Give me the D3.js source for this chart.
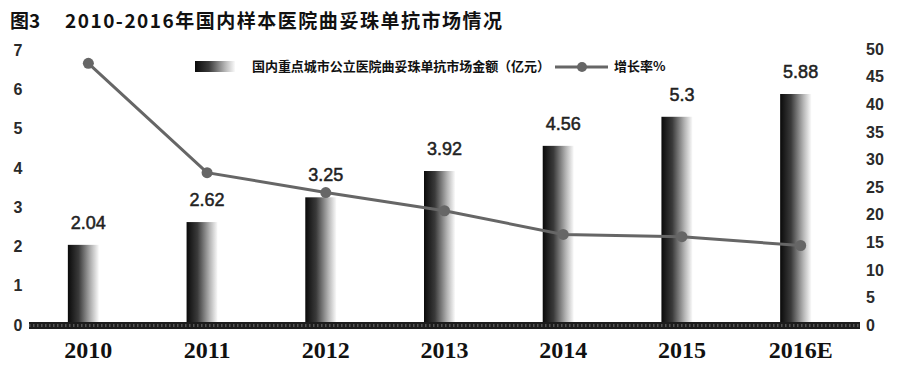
<!DOCTYPE html>
<html><head><meta charset="utf-8">
<script src="https://cdn.jsdelivr.net/npm/d3@7/dist/d3.min.js"></script>
<style>body{margin:0;background:#fff}svg{display:block}</style>
</head><body>
<svg id="c" width="900" height="379"></svg>
<script>
const years = ["2010","2011","2012","2013","2014","2015","2016E"];
const amounts = [2.04, 2.62, 3.25, 3.92, 4.56, 5.3, 5.88];
const growth = [47.4, 27.6, 24.0, 20.7, 16.4, 16.0, 14.4];
const leftTicks = [0,1,2,3,4,5,6,7];
const rightTicks = [0,5,10,15,20,25,30,35,40,45,50];
const titlePrefix = "图3";
const titleText = "2010-2016年国内样本医院曲妥珠单抗市场情况";
const legendBar = "国内重点城市公立医院曲妥珠单抗市场金额（亿元）";
const legendLine = "增长率%";

const svg = d3.select("#c");
const x = d3.scaleBand().domain(years).range([29, 860]);
const yL = d3.scaleLinear().domain([0,7]).range([325,50]);
const yR = d3.scaleLinear().domain([0,50]).range([325,49]);

const defs = svg.append("defs");
const g = defs.append("linearGradient").attr("id","bg").attr("x1","0").attr("x2","1").attr("y1","0").attr("y2","0");
g.append("stop").attr("offset","0").attr("stop-color","#0a0a0a");
g.append("stop").attr("offset","0.35").attr("stop-color","#3a3a3a");
g.append("stop").attr("offset","0.75").attr("stop-color","#b5b5b5");
g.append("stop").attr("offset","1").attr("stop-color","#fafafa");

// title
svg.append("text").attr("x",10).attr("y",28).text(titlePrefix)
  .attr("font-family","'Noto Sans CJK SC'").attr("font-weight","bold").attr("font-size",19).attr("fill","#111");
svg.append("text").attr("x",65).attr("y",28).text(titleText)
  .attr("font-family","'Noto Sans CJK SC'").attr("font-weight","bold").attr("font-size",19).attr("fill","#111")
  .attr("textLength",437).attr("lengthAdjust","spacing");

// left axis labels
svg.append("g").selectAll("text").data(leftTicks).join("text")
  .attr("x",18).attr("y",d=>yL(d)).attr("dy","0.36em").attr("text-anchor","middle")
  .attr("font-family","'Liberation Sans',Arial").attr("font-weight","bold").attr("font-size",16).attr("fill","#2a2a2a")
  .text(d=>d);
// right axis labels
svg.append("g").selectAll("text").data(rightTicks).join("text")
  .attr("x",866).attr("y",d=>yR(d)).attr("dy","0.36em").attr("text-anchor","start")
  .attr("font-family","'Liberation Sans',Arial").attr("font-weight","bold").attr("font-size",16).attr("fill","#2a2a2a")
  .text(d=>d);

// bars
const bw = 31, off = -5;
svg.append("g").selectAll("rect").data(amounts).join("rect")
  .attr("x",(d,i)=>x(years[i])+x.bandwidth()/2+off-bw/2)
  .attr("y",d=>yL(d)).attr("width",bw).attr("height",d=>yL(0)-yL(d))
  .attr("fill","url(#bg)");

// baseline band
svg.append("rect").attr("x",29).attr("y",yL(0)-3).attr("width",831).attr("height",7).attr("fill","#1c1c1c");
svg.append("line").attr("x1",29).attr("x2",860).attr("y1",yL(0)+0.5).attr("y2",yL(0)+0.5)
  .attr("stroke","#555").attr("stroke-width",3).attr("stroke-dasharray","1.5,2.5");

// value labels
svg.append("g").selectAll("text").data(amounts).join("text")
  .attr("x",(d,i)=>x(years[i])+x.bandwidth()/2).attr("y",d=>yL(d)-16)
  .attr("text-anchor","middle")
  .attr("font-family","'Liberation Sans',Arial").attr("font-size",18).attr("fill","#222")
  .attr("stroke","#222").attr("stroke-width",0.5)
  .text(d=>d);

// line
const line = d3.line().x((d,i)=>x(years[i])+x.bandwidth()/2).y(d=>yR(d));
svg.append("path").datum(growth).attr("d",line).attr("fill","none").attr("stroke","#666").attr("stroke-width",3);
svg.append("g").selectAll("circle").data(growth).join("circle")
  .attr("cx",(d,i)=>x(years[i])+x.bandwidth()/2).attr("cy",d=>yR(d)).attr("r",5.5).attr("fill","#666");

// year labels
svg.append("g").selectAll("text").data(years).join("text")
  .attr("x",d=>x(d)+x.bandwidth()/2).attr("y",358).attr("text-anchor","middle")
  .attr("font-family","'Liberation Serif','Times New Roman'").attr("font-weight","bold").attr("font-size",24).attr("fill","#111")
  .text(d=>d);

// legend
svg.append("rect").attr("x",195).attr("y",61).attr("width",40).attr("height",11).attr("fill","url(#bg)");
svg.append("text").attr("x",252).attr("y",71).text(legendBar)
  .attr("font-family","'Noto Sans CJK SC'").attr("font-weight","bold").attr("font-size",13).attr("fill","#111")
  .attr("textLength",298).attr("lengthAdjust","spacing");
svg.append("line").attr("x1",555).attr("x2",608).attr("y1",67).attr("y2",67).attr("stroke","#666").attr("stroke-width",3);
svg.append("circle").attr("cx",582).attr("cy",67).attr("r",5).attr("fill","#666");
svg.append("text").attr("x",614).attr("y",71).text(legendLine)
  .attr("font-family","'Noto Sans CJK SC'").attr("font-weight","bold").attr("font-size",13).attr("fill","#111");
</script>
</body></html>
